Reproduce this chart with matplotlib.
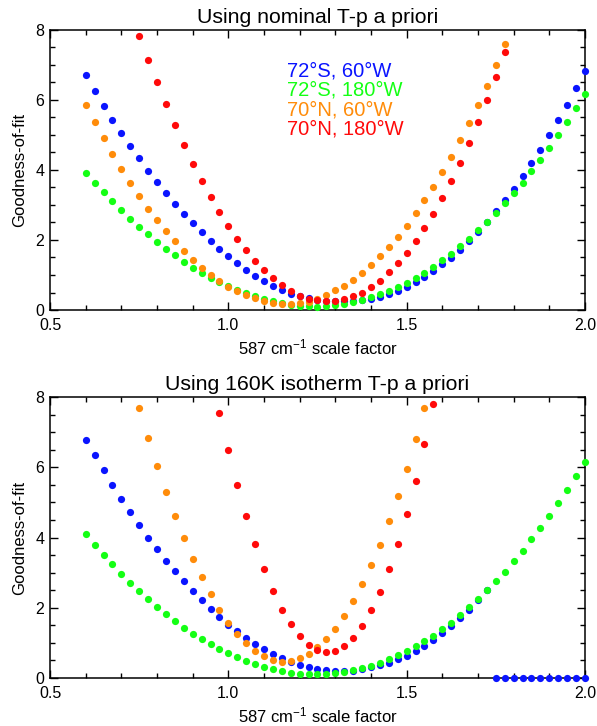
import numpy as np
import matplotlib
matplotlib.use("Agg")
import matplotlib.pyplot as plt
from matplotlib.ticker import MultipleLocator

plt.rcParams['font.family'] = ['Liberation Sans', 'DejaVu Sans']
plt.rcParams['mathtext.fontset'] = 'custom'
plt.rcParams['mathtext.rm'] = 'Liberation Sans'
plt.rcParams['mathtext.it'] = 'Liberation Sans:italic'

STEP = 0.025

# ---- data ----
labels = ["72°S, 60°W", "72°S, 180°W", "70°N, 60°W", "70°N, 180°W"]
colors = ["#0a14ff", "#14ff14", "#ff8c0a", "#ff0a0a"]
titles = ["Using nominal T-p a priori", "Using 160K isotherm T-p a priori"]

# top panel: nominal a priori
top_start = [0.6, 0.6, 0.6, 0.75]
top_blue = [6.70, 6.26, 5.83, 5.44, 5.05, 4.69, 4.33, 3.98, 3.65, 3.33, 3.04, 2.75,
            2.48, 2.22, 1.97, 1.75, 1.53, 1.33, 1.15, 0.98, 0.83, 0.69, 0.57, 0.47,
            0.40, 0.33, 0.29, 0.26, 0.25, 0.25, 0.26, 0.28, 0.32, 0.37, 0.45, 0.54,
            0.65, 0.79, 0.94, 1.10, 1.30, 1.49, 1.72, 1.96, 2.24, 2.51, 2.82, 3.15,
            3.47, 3.82, 4.19, 4.58, 4.99, 5.43, 5.87, 6.35, 6.83]
top_green = [3.92, 3.64, 3.37, 3.10, 2.85, 2.61, 2.38, 2.16, 1.94, 1.75, 1.56, 1.38,
             1.21, 1.06, 0.92, 0.80, 0.68, 0.58, 0.48, 0.39, 0.32, 0.26, 0.20, 0.15,
             0.12, 0.11, 0.10, 0.12, 0.15, 0.18, 0.23, 0.28, 0.36, 0.45, 0.54, 0.65,
             0.78, 0.92, 1.07, 1.24, 1.42, 1.61, 1.82, 2.03, 2.28, 2.52, 2.78, 3.05,
             3.34, 3.64, 3.96, 4.29, 4.64, 5.00, 5.37, 5.77, 6.16]
top_orange = [5.86, 5.36, 4.90, 4.45, 4.02, 3.63, 3.25, 2.89, 2.56, 2.25, 1.96, 1.69,
              1.44, 1.21, 1.00, 0.82, 0.66, 0.53, 0.42, 0.33, 0.26, 0.21, 0.18, 0.17,
              0.19, 0.24, 0.31, 0.44, 0.56, 0.70, 0.87, 1.07, 1.29, 1.54, 1.79, 2.09,
              2.41, 2.76, 3.13, 3.52, 3.93, 4.38, 4.85, 5.34, 5.86, 6.41, 6.99, 7.59]
top_red = [7.84, 7.15, 6.50, 5.88, 5.28, 4.72, 4.18, 3.69, 3.23, 2.79, 2.39, 2.02,
           1.70, 1.39, 1.13, 0.90, 0.71, 0.55, 0.41, 0.32, 0.28, 0.26, 0.27, 0.31,
           0.39, 0.50, 0.65, 0.84, 1.08, 1.34, 1.64, 1.97, 2.35, 2.75, 3.20, 3.68,
           4.20, 4.76, 5.36, 5.99, 6.66, 7.36]

# bottom panel: 160K isotherm a priori
bot_start = [0.6, 0.6, 0.75, 0.975]
bot_blue = [6.79, 6.35, 5.92, 5.50, 5.10, 4.72, 4.35, 3.99, 3.66, 3.34, 3.04, 2.75,
            2.47, 2.21, 1.96, 1.74, 1.52, 1.34, 1.15, 0.98, 0.83, 0.69, 0.58, 0.47,
            0.38, 0.31, 0.26, 0.23, 0.21, 0.20, 0.21, 0.25, 0.30, 0.36, 0.44, 0.53,
            0.63, 0.77, 0.92, 1.09, 1.28, 1.49, 1.72, 1.95, 2.22, 2.50,
            0, 0, 0, 0, 0, 0, 0, 0, 0, 0, 0]
bot_green = [4.09, 3.79, 3.49, 3.24, 2.97, 2.71, 2.48, 2.24, 2.02, 1.81, 1.62, 1.43,
             1.26, 1.11, 0.96, 0.83, 0.70, 0.59, 0.48, 0.40, 0.32, 0.25, 0.19, 0.15,
             0.12, 0.10, 0.10, 0.11, 0.13, 0.17, 0.22, 0.28, 0.34, 0.43, 0.53, 0.65,
             0.77, 0.90, 1.05, 1.21, 1.39, 1.58, 1.79, 2.01, 2.25, 2.50, 2.76, 3.03,
             3.32, 3.62, 3.95, 4.28, 4.62, 4.98, 5.35, 5.74, 6.15]
bot_orange = [7.68, 6.84, 6.04, 5.31, 4.62, 3.99, 3.40, 2.87, 2.39, 1.95, 1.57, 1.25,
              0.99, 0.78, 0.62, 0.51, 0.46, 0.48, 0.56, 0.68, 0.87, 1.11, 1.40, 1.77,
              2.19, 2.67, 3.21, 3.80, 4.46, 5.18, 5.96, 6.80, 7.70]
bot_red = [7.54, 6.48, 5.49, 4.61, 3.81, 3.09, 2.49, 1.95, 1.53, 1.19, 0.94, 0.80,
           0.74, 0.78, 0.92, 1.15, 1.49, 1.93, 2.46, 3.10, 3.83, 4.67, 5.62, 6.65, 7.80]

panels = [
    (top_start, [top_blue, top_green, top_orange, top_red]),
    (bot_start, [bot_blue, bot_green, bot_orange, bot_red]),
]


def style_axes(ax):
    ax.set_xlim(0.5, 2.0)
    ax.set_ylim(0, 8)
    ax.xaxis.set_major_locator(MultipleLocator(0.5))
    ax.xaxis.set_minor_locator(MultipleLocator(0.1))
    ax.yaxis.set_major_locator(MultipleLocator(2))
    ax.yaxis.set_minor_locator(MultipleLocator(0.5))
    ax.xaxis.set_major_formatter(plt.FuncFormatter(lambda v, p: f"{v:.1f}"))
    ax.tick_params(which='both', direction='in', top=True, right=True,
                   width=1.0, labelsize=11.5)
    ax.tick_params(axis='x', which='both', pad=6)
    ax.tick_params(axis='y', which='both', pad=4)
    ax.tick_params(which='major', length=6)
    ax.tick_params(which='minor', length=3.5)
    for sp in ax.spines.values():
        sp.set_linewidth(1.1)
    ax.set_xlabel("587 cm$^{\\mathregular{-1}}$ scale factor", fontsize=12, labelpad=3)
    ax.set_ylabel("Goodness-of-fit", fontsize=12, labelpad=6)


fig = plt.figure(figsize=(5.97, 7.26), dpi=100)
ax_top = fig.add_axes([0.0838, 0.573, 0.896, 0.3857])
ax_bot = fig.add_axes([0.0838, 0.0661, 0.896, 0.387])

for ax, title, (starts, series) in zip([ax_top, ax_bot], titles, panels):
    for start, vals, col in zip(starts, series, colors):
        x = start + STEP * np.arange(len(vals))
        ax.plot(x, vals, 'o', color=col, ms=5.2, mec='none', clip_on=False, zorder=3)
    style_axes(ax)
    ax.set_title(title, fontsize=15.3, pad=5)

for i, (lab, col) in enumerate(zip(labels, colors)):
    ax_top.text(0.443, 0.855 - i * 0.07, lab, color=col, fontsize=14.5,
                transform=ax_top.transAxes, va='center', ha='left')

fig.savefig("out.png", dpi=100)
